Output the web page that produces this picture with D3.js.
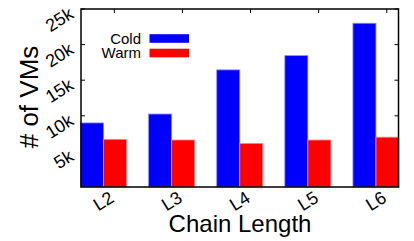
<!DOCTYPE html>
<html>
<head>
<meta charset="utf-8">
<script src="https://cdn.jsdelivr.net/npm/d3@7"></script>
<style>
  body { margin: 0; background: #fff; }
  text { font-family: "Liberation Sans", Arial, sans-serif; fill: #000; }
</style>
</head>
<body>
<div id="chart"></div>
<script>
// data
var categories = ["L2", "L3", "L4", "L5", "L6"];
var coldVMs = [9000, 10250, 16450, 18450, 23000];
var warmVMs = [6700, 6600, 6130, 6600, 7000];
var yTickValues = [5000, 10000, 15000, 20000, 25000];
var yTickLabels = ["5k", "10k", "15k", "20k", "25k"];
var seriesNames = ["Cold", "Warm"];
var seriesColors = ["#0000ff", "#ff0000"];

var width = 414, height = 241;
var frame = {l: 81, r: 398.5, t: 9, b: 187};

var svg = d3.select('#chart')
    .append('svg')
    .attr('width', width)
    .attr('height', height);

var x = d3.scaleBand().domain(categories).range([69.5, 410]);
var y = d3.scaleLinear().domain([0, 25000]).range([frame.b, frame.t]);
var barW = x.step() * 0.338;
var tickOff = 10.8; // gnuplot puts the tics a bit right of the group centre

function centre(d) { return x(d) + x.bandwidth() / 2; }

// tick marks (drawn under the bars)
var ticks = svg.append('g').attr('stroke', '#000').attr('stroke-width', 1);
yTickValues.forEach(function(v) {
    ticks.append('line').attr('x1', frame.l).attr('x2', frame.l + 4).attr('y1', y(v)).attr('y2', y(v));
    ticks.append('line').attr('x1', frame.r - 4).attr('x2', frame.r).attr('y1', y(v)).attr('y2', y(v));
});
categories.forEach(function(c) {
    var tx = centre(c) + tickOff;
    ticks.append('line').attr('x1', tx).attr('x2', tx).attr('y1', frame.t).attr('y2', frame.t + 4);
    ticks.append('line').attr('x1', tx).attr('x2', tx).attr('y1', frame.b).attr('y2', frame.b - 4);
});

// bars
var bars = svg.append('g');
bars.selectAll('rect.cold')
    .data(categories)
    .enter().append('rect')
    .attr('class', 'cold')
    .attr('x', function(d) { return centre(d) - barW; })
    .attr('y', function(d, i) { return y(coldVMs[i]); })
    .attr('width', barW)
    .attr('height', function(d, i) { return y(0) - y(coldVMs[i]); })
    .attr('fill', seriesColors[0])
    .attr('stroke', '#8c8cff').attr('stroke-width', 0.8);

bars.selectAll('rect.warm')
    .data(categories)
    .enter().append('rect')
    .attr('class', 'warm')
    .attr('x', function(d) { return centre(d); })
    .attr('y', function(d, i) { return y(warmVMs[i]); })
    .attr('width', barW)
    .attr('height', function(d, i) { return y(0) - y(warmVMs[i]); })
    .attr('fill', seriesColors[1])
    .attr('stroke', '#ff8c8c').attr('stroke-width', 0.8);

// frame
svg.append('rect')
    .attr('x', frame.l).attr('y', frame.t)
    .attr('width', frame.r - frame.l).attr('height', frame.b - frame.t)
    .attr('fill', 'none').attr('stroke', '#000').attr('stroke-width', 1.5);

// y tick labels
yTickValues.forEach(function(v, i) {
    var ax = frame.l - 6, ay = y(v) + 8;
    svg.append('text')
        .attr('transform', 'translate(' + ax + ',' + ay + ') rotate(-32)')
        .attr('text-anchor', 'end')
        .style('font-size', '18px')
        .text(yTickLabels[i]);
});

// x tick labels
categories.forEach(function(c) {
    var ax = centre(c) + tickOff + 1, ay = frame.b + 14;
    svg.append('text')
        .attr('transform', 'translate(' + ax + ',' + ay + ') rotate(-32)')
        .attr('text-anchor', 'end')
        .style('font-size', '18px')
        .text(c);
});

// axis titles
svg.append('text')
    .attr('transform', 'translate(38,97) rotate(-90)')
    .attr('text-anchor', 'middle')
    .style('font-size', '26px')
    .text('# of VMs');

svg.append('text')
    .attr('x', 240).attr('y', 231.5)
    .attr('text-anchor', 'middle')
    .style('font-size', '24px')
    .text('Chain Length');

// legend
var legend = svg.append('g');
seriesNames.forEach(function(name, i) {
    var ly = 38.5 + i * 14.5;
    legend.append('text')
        .attr('x', 141).attr('y', ly + 5)
        .attr('text-anchor', 'end')
        .style('font-size', '15px')
        .text(name);
    legend.append('rect')
        .attr('x', 149.5).attr('y', ly - 4.3)
        .attr('width', 39.5).attr('height', 8.6)
        .attr('fill', seriesColors[i]);
});
</script>
</body>
</html>
